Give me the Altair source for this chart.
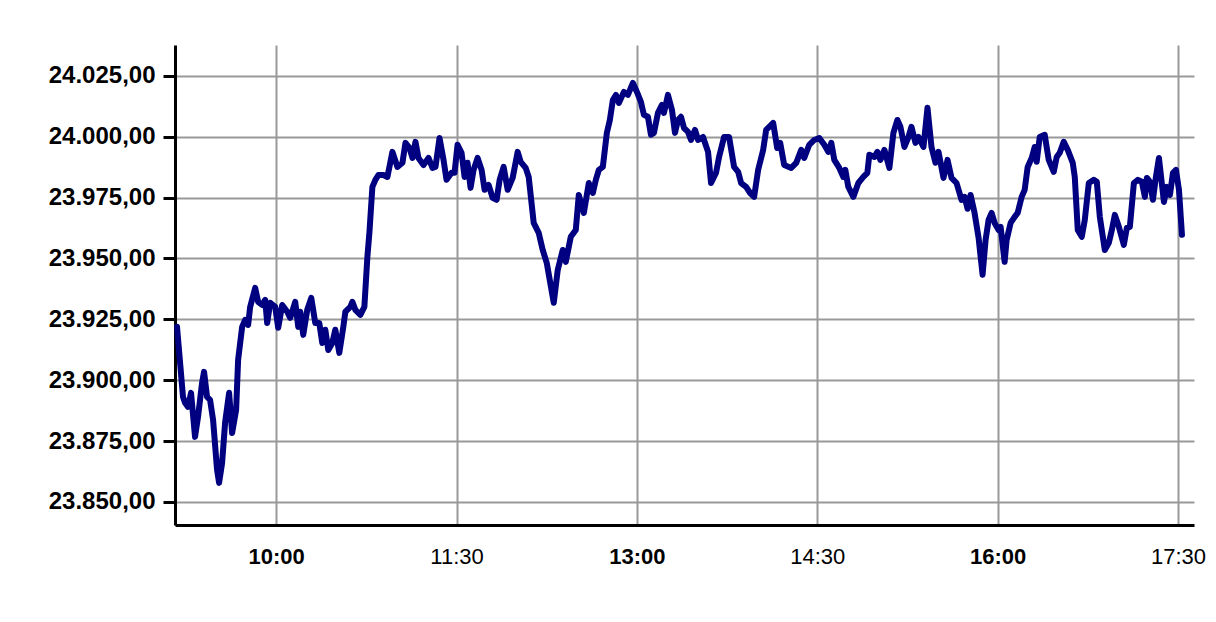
import altair as alt
import pandas as pd

times = [
    "09:10:30", "09:13:30", "09:14:30", "09:16:00", "09:17:30", "09:19:30", "09:21:00", "09:23:00",
    "09:24:00", "09:25:30", "09:27:00", "09:28:30", "09:30:30", "09:31:30", "09:33:00", "09:34:30",
    "09:36:30", "09:38:00", "09:40:00", "09:41:00", "09:43:00", "09:44:30", "09:46:00", "09:47:00",
    "09:49:30", "09:51:00", "09:53:00", "09:54:30", "09:55:30", "09:57:00", "09:59:30", "10:01:00",
    "10:03:00", "10:05:30", "10:07:00", "10:09:30", "10:11:00", "10:12:00", "10:13:30", "10:15:30",
    "10:17:30", "10:19:30", "10:21:30", "10:23:00", "10:24:30", "10:26:00", "10:28:00", "10:29:30",
    "10:31:30", "10:33:30", "10:34:30", "10:37:00", "10:38:00", "10:39:30", "10:42:00", "10:44:00",
    "10:45:30", "10:46:30", "10:48:00", "10:49:30", "10:51:00", "10:53:30", "10:55:30", "10:58:00",
    "11:00:30", "11:03:00", "11:04:30", "11:06:30", "11:08:00", "11:09:30", "11:11:00", "11:13:30",
    "11:16:00", "11:18:00", "11:19:30", "11:21:30", "11:23:30", "11:25:00", "11:27:30", "11:29:00",
    "11:30:30", "11:32:30", "11:34:00", "11:35:30", "11:37:00", "11:38:30", "11:40:30", "11:42:30",
    "11:44:00", "11:46:00", "11:48:00", "11:50:00", "11:51:30", "11:53:30", "11:55:30", "11:58:00",
    "12:00:30", "12:02:00", "12:04:30", "12:06:00", "12:08:30", "12:11:00", "12:13:00", "12:15:00",
    "12:16:30", "12:18:30", "12:20:30", "12:23:00", "12:24:30", "12:27:00", "12:29:30", "12:31:00",
    "12:33:30", "12:36:00", "12:38:00", "12:39:30", "12:41:00", "12:43:00", "12:45:00", "12:46:30",
    "12:48:00", "12:49:30", "12:51:00", "12:53:30", "12:55:30", "12:58:00", "13:00:00", "13:02:00",
    "13:03:30", "13:05:30", "13:07:00", "13:08:30", "13:10:30", "13:12:30", "13:13:30", "13:15:30",
    "13:17:30", "13:19:00", "13:20:30", "13:22:00", "13:23:30", "13:25:30", "13:27:00", "13:29:00",
    "13:30:30", "13:33:00", "13:35:30", "13:37:00", "13:39:30", "13:41:00", "13:43:30", "13:46:00",
    "13:48:30", "13:50:30", "13:52:00", "13:54:30", "13:56:30", "13:58:30", "14:00:30", "14:03:00",
    "14:04:30", "14:08:00", "14:10:00", "14:11:30", "14:13:30", "14:17:00", "14:19:30", "14:22:00",
    "14:23:30", "14:26:00", "14:28:30", "14:31:00", "14:33:30", "14:35:30", "14:37:00", "14:38:30",
    "14:41:00", "14:43:00", "14:44:00", "14:45:30", "14:48:00", "14:50:30", "14:53:00", "14:55:00",
    "14:56:00", "14:58:30", "15:00:00", "15:01:30", "15:03:30", "15:06:00", "15:08:00", "15:10:00",
    "15:11:30", "15:13:30", "15:15:30", "15:17:00", "15:19:00", "15:20:30", "15:23:00", "15:25:00",
    "15:27:00", "15:29:00", "15:30:30", "15:33:00", "15:35:00", "15:37:00", "15:39:30", "15:42:00",
    "15:43:30", "15:45:00", "15:46:30", "15:48:30", "15:50:30", "15:52:30", "15:54:00", "15:55:30",
    "15:57:00", "15:58:30", "16:00:30", "16:01:30", "16:03:30", "16:04:30", "16:06:30", "16:08:30",
    "16:10:00", "16:12:00", "16:13:30", "16:15:00", "16:17:00", "16:18:30", "16:19:30", "16:21:00",
    "16:23:30", "16:25:30", "16:28:00", "16:29:30", "16:31:00", "16:33:00", "16:35:00", "16:37:30",
    "16:38:30", "16:40:00", "16:42:00", "16:43:30", "16:45:30", "16:48:00", "16:49:30", "16:51:00",
    "16:53:30", "16:55:30", "16:57:00", "16:58:30", "17:00:30", "17:03:00", "17:04:30", "17:06:00",
    "17:08:00", "17:10:00", "17:12:00", "17:13:30", "17:14:30", "17:16:00", "17:17:30", "17:19:00",
    "17:20:30", "17:23:00", "17:24:30", "17:26:00", "17:27:30", "17:29:00", "17:30:30", "17:32:00",
]

values = [
    23921.9, 23893.1, 23890.7, 23889.0, 23894.8, 23876.7, 23884.9, 23898.9,
    23903.4, 23893.1, 23891.9, 23883.7, 23863.1, 23857.8, 23866.0, 23882.5,
    23894.8, 23878.3, 23887.8, 23908.3, 23921.9, 23924.8, 23922.7, 23930.1,
    23937.9, 23932.2, 23930.9, 23933.0, 23923.5, 23931.8, 23930.1, 23921.5,
    23930.9, 23928.1, 23925.6, 23932.2, 23921.9, 23928.1, 23918.6, 23928.9,
    23933.8, 23923.5, 23923.5, 23915.3, 23920.7, 23912.4, 23915.3, 23920.7,
    23911.2, 23921.9, 23928.1, 23930.1, 23932.2, 23928.9, 23926.8, 23930.1,
    23950.6, 23960.5, 23979.4, 23982.3, 23984.3, 23984.3, 23983.5, 23993.8,
    23987.6, 23989.3, 23997.5, 23995.4, 23991.3, 23997.9, 23991.3, 23988.4,
    23991.3, 23987.2, 23987.6, 23999.5, 23990.5, 23982.3, 23985.2, 23985.2,
    23996.7, 23993.4, 23983.5, 23989.3, 23979.0, 23986.4, 23991.3, 23986.4,
    23978.2, 23980.2, 23974.9, 23974.1, 23982.3, 23987.6, 23978.2, 23983.1,
    23993.8, 23989.7, 23987.2, 23983.5, 23964.6, 23960.5, 23953.5, 23948.2,
    23941.2, 23931.8, 23945.3, 23953.5, 23948.6, 23958.9, 23961.7, 23976.1,
    23968.7, 23981.0, 23976.9, 23982.3, 23986.4, 23987.6, 24001.6, 24006.9,
    24015.1, 24017.2, 24013.9, 24018.4, 24017.2, 24022.1, 24018.4, 24014.3,
    24009.0, 24008.2, 24000.8, 24001.6, 24009.8, 24013.1, 24009.8, 24017.2,
    24011.0, 24001.6, 24006.9, 24008.2, 24003.6, 24002.0, 23998.7, 24002.8,
    23998.7, 23999.9, 23993.8, 23981.0, 23985.2, 23991.7, 23999.9, 23999.9,
    23987.6, 23985.6, 23981.0, 23979.4, 23976.9, 23975.3, 23986.4, 23994.6,
    24002.8, 24005.7, 23995.4, 23997.5, 23988.4, 23987.2, 23989.3, 23994.6,
    23991.3, 23996.7, 23998.7, 23999.5, 23996.7, 23993.8, 23997.5, 23990.5,
    23987.2, 23983.5, 23986.4, 23979.4, 23975.3, 23981.0, 23983.5, 23985.2,
    23992.6, 23991.7, 23993.8, 23990.5, 23994.6, 23987.2, 24001.6, 24006.9,
    24004.1, 23995.8, 23999.9, 24004.1, 23997.5, 23999.9, 23995.8, 24011.9,
    23995.8, 23989.3, 23993.8, 23983.1, 23990.5, 23983.1, 23981.0, 23974.1,
    23975.3, 23970.4, 23976.1, 23968.7, 23958.5, 23943.3, 23957.6, 23965.8,
    23968.7, 23964.6, 23961.7, 23963.0, 23948.6, 23957.6, 23964.6, 23967.1,
    23968.7, 23975.3, 23978.2, 23987.6, 23991.3, 23995.8, 23989.7, 23999.9,
    24000.8, 23990.5, 23985.6, 23991.7, 23993.4, 23997.9, 23994.6, 23989.3,
    23983.5, 23961.7, 23958.9, 23965.8, 23981.0, 23982.3, 23981.5, 23967.1,
    23953.5, 23956.4, 23961.7, 23967.9, 23963.0, 23955.6, 23962.6, 23963.0,
    23981.0, 23982.3, 23981.5, 23975.3, 23983.1, 23981.5, 23974.1, 23983.5,
    23991.3, 23973.2, 23979.4, 23976.1, 23985.2, 23986.4, 23978.2, 23959.7,
]

y_ticks = [23850, 23875, 23900, 23925, 23950, 23975, 24000, 24025]
x_ticks = [(10, 0), (11, 30), (13, 0), (14, 30), (16, 0), (17, 30)]

df = pd.DataFrame({"t": ["2024-01-02T" + s for s in times], "v": values})


def dt(h, m, s=0):
    return alt.DateTime(year=2024, month=1, date=2, hours=h, minutes=m, seconds=s)


x_axis = alt.Axis(
    values=[dt(h, m) for h, m in x_ticks],
    format="%H:%M",
    title=None,
    grid=True,
    gridColor="#999999",
    gridWidth=2,
    domainColor="black",
    domainWidth=3,
    ticks=False,
    tickSize=0,
    labelFont="Liberation Sans",
    labelFontSize=22,
    labelFontWeight={"expr": "(minutes(datum.value) == 0 && hours(datum.value) % 3 == 1) ? 'bold' : 'normal'"},
    labelColor="black",
    labelPadding=21,
    labelFlush=False,
)

y_axis = alt.Axis(
    values=y_ticks,
    labelExpr="replace(replace(replace(format(datum.value, ',.2f'), ',', '#'), '.', ','), '#', '.')",
    title=None,
    grid=True,
    gridColor="#999999",
    gridWidth=2,
    domainColor="black",
    domainWidth=3,
    tickColor="black",
    tickWidth=3,
    tickSize=12,
    labelFont="Liberation Sans",
    labelFontSize=24,
    labelFontWeight="bold",
    labelColor="black",
    labelPadding=8,
)

chart = (
    alt.Chart(df)
    .mark_line(color="#000080", strokeWidth=6, strokeJoin="round", strokeCap="round")
    .encode(
        x=alt.X("t:T", scale=alt.Scale(domain=[dt(9, 9, 30), dt(17, 38)]), axis=x_axis),
        y=alt.Y("v:Q", scale=alt.Scale(domain=[23840.5, 24037.7], nice=False, zero=False), axis=y_axis),
    )
    .properties(
        width=1019,
        height=480,
        autosize=alt.AutoSizeParams(type="none"),
        padding={"left": 167, "top": 37, "right": 14, "bottom": 80},
    )
    .configure_view(strokeWidth=0)
)

chart.save("out.html", embed_options={"renderer": "svg", "actions": False})
